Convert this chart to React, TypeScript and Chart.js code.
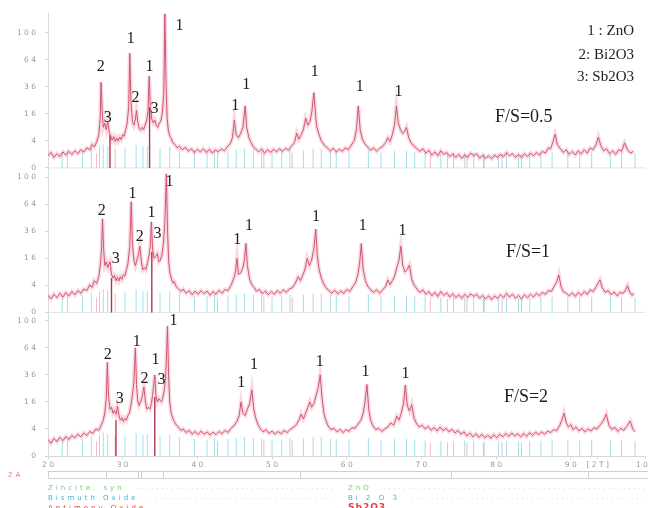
import React, { useEffect, useRef } from "react";
import { Chart, registerables } from "chart.js";

Chart.register(...registerables);

// ---------- data ----------
const panelNames = ["F/S=0.5", "F/S=1", "F/S=2"];
const yTickCounts = [0, 4, 16, 36, 64, 100];
const yTickText = ["0", "4", "1 6", "3 6", "6 4", "1 0 0"];
const xTickValues = [20, 30, 40, 50, 60, 70, 80, 90, 93.6, 100];
const xTickLabels = ["2 0", "3 0", "4 0", "5 0", "6 0", "7 0", "8 0", "9 0", "[ 2 T ]", "1 0 0"];
const phaseLegend = ["1 : ZnO", "2: Bi2O3", "3: Sb2O3"];
const refNames = ["Zincite, syn", "Bismuth Oxide", "Antimony Oxide"];
const refFormulas = ["ZnO", "Bi 2 O 3", "Sb2O3"];

// scan F/S=0.5 : [2theta, counts]
const scanA: [number, number][] = [
  [20.0, 0.8], [20.4, 1.3], [20.8, 0.6], [21.2, 1.1], [21.6, 0.7], [22.0, 1.4], [22.4, 0.9], [22.8, 1.5],
  [23.2, 1.0], [23.6, 1.6], [24.0, 1.1], [24.4, 1.8], [24.8, 1.4], [25.2, 2.2], [25.6, 1.8], [25.9, 3.0],
  [26.2, 2.4], [26.5, 3.6], [26.8, 6], [27.0, 14], [27.1, 40], [27.25, 18], [27.4, 9], [27.6, 11],
  [27.8, 8], [28.0, 12], [28.2, 7], [28.4, 5.5], [28.6, 4.2], [28.8, 5.4], [29.0, 3.8], [29.2, 4.9],
  [29.4, 3.9], [29.6, 5.2], [29.8, 4.4], [30.0, 6.0], [30.2, 5.5], [30.4, 8], [30.6, 11], [30.8, 20],
  [30.95, 72], [31.1, 25], [31.3, 12], [31.5, 10], [31.7, 13], [31.85, 18], [32.0, 12], [32.2, 8.5],
  [32.4, 7.8], [32.6, 9], [32.8, 8], [33.0, 10], [33.2, 12], [33.4, 18], [33.55, 46], [33.7, 20],
  [33.9, 13], [34.1, 11], [34.3, 12.5], [34.5, 10], [34.7, 9], [34.9, 11], [35.1, 12], [35.3, 16],
  [35.5, 30], [35.65, 130], [35.8, 40], [35.95, 14], [36.1, 8], [36.3, 5.5], [36.5, 4.8], [36.7, 3.5],
  [37.0, 3.0], [37.3, 2.2], [37.6, 2.6], [38.0, 1.8], [38.4, 2.3], [38.8, 1.5], [39.2, 2.0], [39.6, 1.3],
  [40.0, 1.9], [40.4, 1.4], [40.8, 2.0], [41.2, 1.3], [41.6, 1.9], [42.0, 1.2], [42.4, 1.8], [42.8, 1.4],
  [43.2, 2.0], [43.6, 1.6], [44.0, 2.4], [44.4, 3.2], [44.7, 5], [44.95, 12.5], [45.2, 6], [45.5, 5],
  [45.8, 6.5], [46.1, 9], [46.4, 21], [46.6, 9], [46.9, 5], [47.2, 3.5], [47.5, 2.4], [47.8, 2.0],
  [48.2, 1.4], [48.6, 2.0], [49.0, 1.2], [49.4, 1.8], [49.8, 1.3], [50.2, 1.9], [50.6, 1.4], [51.0, 2.0],
  [51.4, 1.5], [51.8, 2.1], [52.2, 1.7], [52.6, 2.6], [53.0, 3.5], [53.3, 6.6], [53.6, 4.5], [53.9, 6],
  [54.2, 8], [54.5, 13.5], [54.8, 10], [55.1, 12], [55.35, 18], [55.6, 31], [55.85, 14], [56.0, 9],
  [56.3, 6], [56.6, 4], [57.0, 2.8], [57.4, 2.2], [57.8, 1.6], [58.2, 2.1], [58.6, 1.4], [59.0, 1.9],
  [59.4, 1.5], [59.8, 2.2], [60.2, 1.8], [60.6, 2.8], [61.0, 4.0], [61.3, 8], [61.55, 21], [61.8, 8],
  [62.1, 4.5], [62.4, 3.2], [62.8, 2.4], [63.2, 1.7], [63.6, 2.2], [64.0, 1.5], [64.4, 2.1], [64.8, 2.5],
  [65.2, 3.5], [65.5, 5], [65.8, 3.8], [66.1, 6], [66.4, 10], [66.65, 21], [66.9, 11], [67.2, 8],
  [67.5, 6.5], [67.8, 7.5], [68.0, 9], [68.3, 5], [68.6, 3.5], [69.0, 2.6], [69.4, 2.0], [69.8, 1.5],
  [70.2, 2.0], [70.6, 1.2], [71.0, 1.7], [71.4, 0.9], [71.8, 1.4], [72.2, 0.8], [72.6, 1.6], [73.0, 1.0],
  [73.4, 1.3], [73.8, 0.7], [74.2, 1.1], [74.6, 0.6], [75.0, 1.0], [75.4, 0.5], [75.8, 0.9], [76.2, 0.6],
  [76.6, 1.2], [77.0, 0.8], [77.4, 1.1], [77.8, 0.5], [78.2, 0.9], [78.6, 0.5], [79.0, 0.8], [79.4, 0.45],
  [79.8, 0.9], [80.2, 0.6], [80.6, 1.0], [81.0, 0.7], [81.4, 1.3], [81.8, 0.8], [82.2, 1.1], [82.6, 0.6],
  [83.0, 1.0], [83.4, 0.6], [83.8, 1.1], [84.2, 0.7], [84.6, 1.2], [85.0, 0.8], [85.4, 1.3], [85.8, 0.9],
  [86.2, 1.5], [86.6, 1.2], [87.0, 2.2], [87.3, 2.0], [87.6, 3.6], [87.9, 6.2], [88.2, 3.0], [88.6, 2.0],
  [89.0, 1.3], [89.4, 1.8], [89.8, 1.0], [90.2, 1.5], [90.6, 0.9], [91.0, 1.6], [91.4, 1.1], [91.8, 1.8],
  [92.2, 1.2], [92.6, 2.2], [93.0, 1.8], [93.4, 3.0], [93.7, 5.2], [94.0, 2.8], [94.4, 1.6], [94.8, 2.0],
  [95.2, 1.1], [95.6, 1.6], [96.0, 1.0], [96.4, 1.8], [96.8, 1.5], [97.2, 3.4], [97.6, 1.8], [98.0, 1.2],
  [98.4, 1.5],
];

// scan F/S=1
const scanB: [number, number][] = [
  [20.0, 1.6], [20.4, 1.0], [20.8, 1.8], [21.2, 1.2], [21.6, 2.0], [22.0, 1.3], [22.4, 2.2], [22.8, 1.5],
  [23.2, 2.4], [23.6, 1.7], [24.0, 2.6], [24.4, 2.0], [24.8, 3.0], [25.2, 2.6], [25.6, 4.2], [25.9, 3.4],
  [26.2, 5.5], [26.5, 4.6], [26.8, 7], [27.0, 12], [27.15, 20], [27.3, 48], [27.45, 22], [27.6, 12],
  [27.8, 14], [28.0, 11], [28.3, 14], [28.5, 8], [28.7, 6.5], [28.9, 7.5], [29.1, 5.5], [29.3, 6.8],
  [29.5, 5.4], [29.7, 7.0], [29.9, 6.0], [30.1, 7.8], [30.3, 7.2], [30.5, 10], [30.7, 13], [30.95, 24],
  [31.15, 67], [31.3, 26], [31.5, 15], [31.7, 12], [31.9, 15], [32.1, 18], [32.3, 24], [32.5, 14],
  [32.7, 10], [32.9, 11], [33.1, 10], [33.3, 13], [33.5, 17], [33.7, 24], [33.85, 45], [34.0, 22],
  [34.2, 16], [34.4, 17], [34.65, 19], [34.85, 14], [35.05, 15], [35.25, 18], [35.45, 26], [35.65, 45],
  [35.85, 105], [36.0, 38], [36.15, 15], [36.3, 9], [36.5, 6.5], [36.7, 4.8], [36.9, 5.2], [37.2, 3.5],
  [37.5, 3.0], [37.8, 2.4], [38.1, 3.0], [38.5, 2.0], [38.9, 2.6], [39.3, 1.7], [39.7, 2.5], [40.1, 1.8],
  [40.5, 2.6], [40.9, 1.9], [41.3, 2.5], [41.7, 1.6], [42.1, 2.4], [42.5, 1.8], [42.9, 2.7], [43.3, 2.0],
  [43.7, 2.9], [44.1, 2.6], [44.5, 4], [44.9, 6.5], [45.1, 9], [45.3, 16], [45.5, 8], [45.8, 8.5],
  [46.1, 11], [46.3, 15], [46.5, 26], [46.7, 12], [47.0, 6], [47.3, 4.2], [47.6, 3.4], [47.9, 2.5],
  [48.3, 2.9], [48.7, 1.9], [49.1, 2.5], [49.5, 1.7], [49.9, 2.4], [50.3, 1.8], [50.7, 2.6], [51.1, 2.0],
  [51.5, 2.8], [51.9, 2.2], [52.3, 3.0], [52.7, 3.3], [53.1, 4.6], [53.5, 7], [53.8, 5.5], [54.1, 7.5],
  [54.4, 10], [54.7, 16], [55.0, 12], [55.3, 15], [55.6, 22], [55.85, 38], [56.05, 18], [56.3, 10],
  [56.6, 6.5], [56.9, 4.5], [57.2, 3.4], [57.6, 2.6], [58.0, 2.0], [58.4, 2.7], [58.8, 1.9], [59.2, 2.5],
  [59.6, 2.0], [60.0, 2.9], [60.4, 2.4], [60.8, 3.6], [61.2, 5], [61.5, 8], [61.75, 14], [61.95, 26],
  [62.2, 10], [62.5, 5.5], [62.8, 3.8], [63.2, 2.8], [63.6, 2.2], [64.0, 2.8], [64.4, 2.0], [64.8, 2.8],
  [65.2, 3.6], [65.5, 5.8], [65.8, 4.2], [66.1, 5.5], [66.4, 7], [66.7, 11], [67.0, 15], [67.25, 24],
  [67.5, 12], [67.8, 9], [68.1, 10], [68.4, 12.3], [68.7, 6], [69.0, 4.2], [69.4, 3.0], [69.8, 2.2],
  [70.2, 2.8], [70.6, 1.8], [71.0, 2.4], [71.4, 1.5], [71.8, 2.2], [72.2, 1.4], [72.6, 2.4], [73.0, 1.6],
  [73.4, 2.1], [73.8, 1.3], [74.2, 1.9], [74.6, 1.2], [75.0, 1.7], [75.4, 1.1], [75.8, 1.8], [76.2, 1.2],
  [76.6, 1.9], [77.0, 1.4], [77.4, 1.8], [77.8, 1.1], [78.2, 1.6], [78.6, 1.0], [79.0, 1.5], [79.4, 0.9],
  [79.8, 1.5], [80.2, 1.1], [80.6, 1.7], [81.0, 1.2], [81.4, 2.0], [81.8, 1.3], [82.2, 1.8], [82.6, 1.1],
  [83.0, 1.6], [83.4, 1.0], [83.8, 1.7], [84.2, 1.2], [84.6, 1.8], [85.0, 1.3], [85.4, 2.0], [85.8, 1.5],
  [86.2, 2.2], [86.6, 1.8], [87.0, 2.6], [87.4, 2.4], [87.8, 3.8], [88.1, 5], [88.4, 7.7], [88.7, 3.6],
  [89.0, 2.4], [89.4, 2.0], [89.8, 1.5], [90.2, 2.1], [90.6, 1.4], [91.0, 2.2], [91.4, 1.6], [91.8, 2.4],
  [92.2, 1.8], [92.6, 2.8], [93.0, 2.4], [93.4, 3.6], [93.9, 5.8], [94.2, 3.4], [94.6, 2.2], [95.0, 2.6],
  [95.4, 1.7], [95.8, 2.3], [96.2, 1.5], [96.6, 2.2], [97.0, 2.0], [97.3, 2.6], [97.6, 3.9], [97.9, 2.2],
  [98.2, 1.6], [98.5, 2.0],
];

// scan F/S=2
const scanC: [number, number][] = [
  [20.0, 1.5], [20.4, 0.9], [20.8, 1.7], [21.2, 1.1], [21.6, 1.9], [22.0, 1.3], [22.4, 2.1], [22.8, 1.5],
  [23.2, 2.3], [23.6, 1.8], [24.0, 2.6], [24.4, 2.0], [24.8, 2.9], [25.2, 2.3], [25.6, 3.3], [26.0, 2.8],
  [26.4, 4.0], [26.8, 3.6], [27.1, 5.0], [27.4, 7], [27.6, 10], [27.8, 18], [27.95, 48], [28.1, 20],
  [28.3, 12], [28.5, 13], [28.7, 10], [28.9, 11.5], [29.1, 9.5], [29.3, 13.5], [29.5, 9], [29.7, 7],
  [29.9, 8], [30.1, 6.5], [30.3, 7.8], [30.5, 7.0], [30.7, 9], [30.9, 10], [31.1, 14], [31.3, 20],
  [31.5, 30], [31.7, 64], [31.85, 28], [32.0, 17], [32.2, 14], [32.4, 16], [32.6, 19], [32.85, 26],
  [33.05, 16], [33.25, 12], [33.45, 13], [33.65, 12], [33.85, 15], [34.0, 20], [34.3, 36], [34.45, 20],
  [34.65, 16], [34.85, 18], [35.0, 17], [35.2, 16], [35.4, 19], [35.6, 25], [35.8, 40], [36.0, 92],
  [36.15, 35], [36.3, 16], [36.5, 10], [36.7, 7.9], [36.9, 6.5], [37.2, 5.2], [37.5, 4.4], [37.8, 3.6],
  [38.1, 4.0], [38.5, 3.0], [38.9, 3.6], [39.3, 2.6], [39.7, 3.3], [40.1, 2.5], [40.5, 3.4], [40.9, 2.6],
  [41.3, 3.2], [41.7, 2.4], [42.1, 3.1], [42.5, 2.5], [42.9, 3.3], [43.3, 2.7], [43.7, 3.6], [44.1, 3.0],
  [44.5, 4.2], [44.9, 5.0], [45.3, 6.5], [45.6, 9], [45.85, 16], [46.1, 10], [46.4, 9], [46.7, 12],
  [47.0, 15], [47.3, 24], [47.55, 12], [47.8, 8], [48.1, 5.5], [48.4, 4.2], [48.8, 3.2], [49.2, 3.8],
  [49.6, 2.8], [50.0, 3.4], [50.4, 2.6], [50.8, 3.3], [51.2, 2.7], [51.6, 3.6], [52.0, 3.0], [52.4, 3.8],
  [52.8, 4.4], [53.2, 5.2], [53.6, 7], [53.9, 9.6], [54.2, 7.5], [54.5, 10], [54.8, 13], [55.05, 16],
  [55.3, 13], [55.6, 15], [55.9, 20], [56.2, 26], [56.45, 36], [56.7, 18], [56.95, 10], [57.2, 7],
  [57.5, 5], [57.9, 3.8], [58.3, 4.2], [58.7, 3.2], [59.1, 3.9], [59.5, 3.0], [59.9, 3.8], [60.3, 3.3],
  [60.7, 4.4], [61.1, 4.2], [61.5, 5.5], [61.9, 7], [62.2, 10], [62.45, 16], [62.7, 28], [62.95, 12],
  [63.2, 7], [63.5, 5], [63.9, 3.8], [64.3, 4.2], [64.7, 3.3], [65.1, 4.0], [65.5, 4.6], [65.9, 6],
  [66.3, 5.2], [66.7, 8.7], [67.0, 7], [67.3, 10], [67.6, 15], [67.85, 27.6], [68.1, 14], [68.4, 11],
  [68.7, 14.5], [69.0, 8], [69.3, 6], [69.7, 4.6], [70.1, 5.2], [70.5, 4.0], [70.9, 4.8], [71.3, 3.6],
  [71.7, 4.5], [72.1, 3.4], [72.5, 4.6], [72.9, 3.5], [73.3, 4.2], [73.7, 3.2], [74.1, 3.9], [74.5, 2.9],
  [74.9, 3.6], [75.3, 2.6], [75.7, 3.2], [76.1, 2.2], [76.5, 2.9], [76.9, 2.0], [77.3, 2.7], [77.7, 1.9],
  [78.1, 2.6], [78.5, 1.8], [78.9, 2.4], [79.3, 1.7], [79.7, 2.5], [80.1, 1.8], [80.5, 2.6], [80.9, 2.0],
  [81.3, 2.8], [81.7, 2.1], [82.1, 2.9], [82.5, 2.2], [82.9, 2.7], [83.3, 2.0], [83.7, 2.8], [84.1, 2.1],
  [84.5, 3.0], [84.9, 2.3], [85.3, 3.1], [85.7, 2.5], [86.1, 3.2], [86.5, 2.6], [86.9, 3.4], [87.3, 3.0],
  [87.7, 3.8], [88.1, 3.5], [88.5, 5], [88.8, 7], [89.1, 10], [89.4, 6], [89.7, 4.6], [90.0, 5.4],
  [90.3, 3.8], [90.7, 4.6], [91.1, 3.4], [91.5, 4.2], [91.9, 3.2], [92.3, 4.0], [92.7, 3.4], [93.1, 4.4],
  [93.5, 4.0], [93.9, 5.2], [94.3, 6.5], [94.75, 9.6], [95.1, 5.2], [95.5, 3.9], [95.9, 4.5], [96.3, 3.3],
  [96.7, 4.2], [97.1, 3.6], [97.5, 4.8], [97.95, 6.7], [98.3, 4.0], [98.6, 3.2],
];

// peak labels: [2theta, counts level, text]
const peakLabelsA: [number, number, string][] = [
  [37.6, 111, "1"], [31.07, 91, "1"], [27.07, 56, "2"], [33.6, 56, "1"], [31.73, 26.7, "2"],
  [28.0, 13.8, "3"], [34.27, 19, "3"], [45.07, 21, "1"], [46.53, 38, "1"], [55.73, 51, "1"],
  [61.73, 36.4, "1"], [66.93, 31.4, "1"],
];
const peakLabelsB: [number, number, string][] = [
  [36.27, 93.6, "1"], [31.33, 77, "1"], [27.2, 57, "2"], [33.87, 54, "1"], [32.27, 31.4, "2"],
  [34.67, 33.9, "3"], [29.07, 16, "3"], [45.33, 29, "1"], [46.93, 41, "1"], [55.87, 49.8, "1"],
  [62.13, 41, "1"], [67.47, 36.4, "1"],
];
const peakLabelsC: [number, number, string][] = [
  [36.8, 100.7, "1"], [31.87, 71, "1"], [28.0, 56, "2"], [34.4, 50.8, "1"], [32.93, 33, "2"],
  [35.2, 32, "3"], [29.6, 17.8, "3"], [45.87, 29, "1"], [47.6, 45.7, "1"], [56.4, 48.7, "1"],
  [62.53, 39, "1"], [67.87, 37.3, "1"],
];
// panel name anchors: [2theta, counts level]
const panelNameAt: [number, number][] = [[83.7, 13.8], [84.27, 19.7], [84.0, 19]];

// reference sticks: [2theta, counts]
const bismuthLines: [number, number][] = [
  [21.9, 1.4], [22.6, 1.8], [24.6, 1.6], [25.8, 2.2], [26.9, 2.4], [27.4, 3], [28.0, 2.6], [30.3, 2.2],
  [31.8, 2.8], [32.7, 2.5], [33.3, 2.5], [35.0, 2.2], [36.3, 2.5], [37.6, 2], [39.6, 1.6], [41.3, 1.5],
  [42.3, 1.8], [44.1, 1.6], [45.2, 1.8], [46.3, 2], [47.5, 1.8], [48.6, 1.6], [50.0, 1.5], [51.3, 1.5],
  [52.4, 1.7], [54.2, 1.7], [55.5, 2], [56.6, 2], [57.8, 1.6], [58.6, 1.5], [60.3, 1.5], [62.9, 1.8],
  [64.6, 1.4], [66.4, 1.6], [68.0, 1.6], [69.1, 1.4], [70.5, 1.3], [72.6, 1.2], [74.3, 1.2], [75.8, 1.3],
  [77.0, 1.2], [78.4, 1.1], [80.3, 1.2], [81.4, 1.2], [83.0, 1.1], [84.5, 1.2], [86.0, 1.2], [87.5, 1.4],
  [89.6, 1.4], [91.2, 1.3], [92.8, 1.4], [95.3, 1.3], [96.8, 1.3], [98.6, 1.2],
];
const antimonyFaint: [number, number][] = [
  [26.5, 1.2], [29.0, 2], [42.7, 1.2], [48.9, 1.4], [52.7, 1.3], [71.2, 1], [73.5, 1], [76.1, 1],
  [78.3, 1], [80.8, 1], [83.4, 1],
];
const antimonyStrongA: [number, number][] = [[28.3, 5.8], [33.6, 20]];
const antimonyStrongB: [number, number][] = [[28.5, 6.5], [33.9, 20]];
const antimonyStrongC: [number, number][] = [[29.1, 7], [34.3, 19]];
const stripMarks = [27.8, 32.0, 32.5, 35.4, 53.8, 74.0, 92.3];

// ---------- layout helpers ----------
const PANEL_BASE = [21.31, 10.62, 0]; // square-root units, top panel first
const Y_MAX = 32.73;
const scans = [scanA, scanB, scanC];
const peakLabels = [peakLabelsA, peakLabelsB, peakLabelsC];
const strongSticks = [antimonyStrongA, antimonyStrongB, antimonyStrongC];

const toY = (p: number, c: number) => PANEL_BASE[p] + Math.sqrt(Math.max(c, 0));

const yTicks = PANEL_BASE.flatMap((b, p) =>
  yTickCounts.map((c, i) => ({ value: toY(p, c), label: yTickText[i] }))
).sort((a, b) => a.value - b.value);

const stickData = (p: number, list: [number, number][]) =>
  list.flatMap(([t, c]) => [
    { x: t, y: toY(p, 0) },
    { x: t, y: toY(p, c) },
    { x: t, y: null as any },
  ]);

const textPlugin = {
  id: "xrdText",
  afterDatasetsDraw(chart: any) {
    const { ctx, scales } = chart;
    const x = scales.x;
    const y = scales.y;
    ctx.save();
    ctx.fillStyle = "#1c1c1c";
    ctx.textAlign = "center";
    ctx.textBaseline = "middle";
    ctx.font = '16px "Liberation Serif"';
    peakLabels.forEach((list, p) =>
      list.forEach(([t, c, s]) => ctx.fillText(s, x.getPixelForValue(t), y.getPixelForValue(toY(p, c))))
    );
    ctx.font = '18px "Liberation Serif"';
    panelNameAt.forEach(([t, c], p) =>
      ctx.fillText(panelNames[p], x.getPixelForValue(t), y.getPixelForValue(toY(p, c)))
    );
    ctx.textAlign = "right";
    ctx.font = '15px "Liberation Serif"';
    const ly = [31, 55, 77];
    phaseLegend.forEach((s, i) => ctx.fillText(s, 634, ly[i]));
    ctx.restore();
  },
  afterDraw(chart: any) {
    const { ctx, scales } = chart;
    const x = scales.x;
    const left = x.getPixelForValue(20);
    const right = x.getPixelForValue(100) + 10;
    ctx.save();
    // reference strip
    ctx.strokeStyle = "#cfcfcf";
    ctx.lineWidth = 1;
    ctx.strokeRect(left + 0.5, 471.5, right - left, 7);
    ctx.beginPath();
    stripMarks.forEach((t) => {
      const px = Math.round(x.getPixelForValue(t)) + 0.5;
      ctx.moveTo(px, 471.5);
      ctx.lineTo(px, 478.5);
    });
    ctx.stroke();
    ctx.fillStyle = "#e07a8a";
    ctx.font = '7px "DejaVu Sans"';
    ctx.textAlign = "left";
    ctx.textBaseline = "middle";
    (ctx as any).letterSpacing = "3px";
    ctx.fillText("2A", 8, 475);
    const colors = ["#7acb72", "#3fb2dc", "#e2403f"];
    const rows = [488, 498, 508];
    refNames.forEach((s, i) => {
      ctx.fillStyle = colors[i];
      ctx.font = '7px "DejaVu Sans"';
      (ctx as any).letterSpacing = "3px";
      ctx.fillText(s, 48, rows[i]);
      const w = ctx.measureText(s).width;
      ctx.font = i === 2 ? 'bold 9px "DejaVu Sans"' : '7px "DejaVu Sans"';
      (ctx as any).letterSpacing = i === 2 ? "1px" : "3px";
      ctx.fillText(refFormulas[i], 348, rows[i]);
      const w2 = ctx.measureText(refFormulas[i]).width;
      ctx.save();
      ctx.strokeStyle = "rgba(190,190,190,0.55)";
      ctx.setLineDash([1, 4]);
      ctx.beginPath();
      ctx.moveTo(48 + w + 12, rows[i] + 0.5);
      ctx.lineTo(335, rows[i] + 0.5);
      ctx.moveTo(348 + w2 + 12, rows[i] + 0.5);
      ctx.lineTo(645, rows[i] + 0.5);
      ctx.stroke();
      ctx.restore();
    });
    (ctx as any).letterSpacing = "0px";
    ctx.restore();
  },
};

export default function App() {
  const ref = useRef<HTMLCanvasElement | null>(null);
  useEffect(() => {
    if (!ref.current) return;
    const datasets: any[] = [];
    strongSticks.forEach((list, p) =>
      datasets.push({
        data: stickData(p, list),
        borderColor: "rgba(170,30,55,0.9)",
        borderWidth: 1.4,
        pointRadius: 0,
        spanGaps: false,
      })
    );
    scans.forEach((scan, p) =>
      datasets.push({
        data: scan.map(([t, c]) => ({ x: t, y: toY(p, c) })),
        borderColor: "rgba(210,78,108,0.95)",
        borderWidth: 1,
        pointRadius: 0,
        tension: 0,
      })
    );
    scans.forEach((scan, p) =>
      datasets.push({
        data: scan.map(([t, c]) => ({ x: t, y: toY(p, c) })),
        borderColor: "rgba(236,150,170,0.35)",
        borderWidth: 4,
        pointRadius: 0,
        tension: 0,
      })
    );
    [0, 1, 2].forEach((p) => {
      datasets.push({
        data: stickData(p, bismuthLines),
        borderColor: "rgba(120,210,228,0.7)",
        borderWidth: 1,
        pointRadius: 0,
        spanGaps: false,
      });
      datasets.push({
        data: stickData(p, antimonyFaint),
        borderColor: "rgba(236,130,150,0.55)",
        borderWidth: 1,
        pointRadius: 0,
        spanGaps: false,
      });
    });
    [0, 1].forEach((p) =>
      datasets.push({
        data: [
          { x: 20, y: toY(p, 0) },
          { x: 100, y: toY(p, 0) },
        ],
        borderColor: "#e2e2e2",
        borderWidth: 1,
        pointRadius: 0,
      })
    );

    const chart = new Chart(ref.current, {
      type: "line",
      data: { datasets },
      options: {
        responsive: false,
        animation: false,
        events: [],
        layout: { padding: { top: 6, right: 0, left: 0, bottom: 0 } },
        plugins: { legend: { display: false }, tooltip: { enabled: false } },
        scales: {
          x: {
            type: "linear",
            min: 20,
            max: 100,
            offset: false,
            afterBuildTicks: (s: any) => {
              s.ticks = xTickValues.map((v) => ({ value: v }));
            },
            afterFit: (s: any) => {
              s.height = 52;
            },
            ticks: {
              autoSkip: false,
              maxRotation: 0,
              padding: 2,
              color: "#9a9a9a",
              font: { family: "DejaVu Sans", size: 7.5 },
              callback: (_v: any, i: number) => xTickLabels[i],
            },
            grid: { drawOnChartArea: false, tickLength: 3, color: "#d6d6d6" },
            border: { color: "#d6d6d6" },
          },
          y: {
            type: "linear",
            min: 0,
            max: Y_MAX,
            afterBuildTicks: (s: any) => {
              s.ticks = yTicks.map((t) => ({ value: t.value }));
            },
            afterFit: (s: any) => {
              s.width = 48;
            },
            ticks: {
              autoSkip: false,
              padding: 9,
              color: "#9a9a9a",
              font: { family: "DejaVu Sans", size: 7.5 },
              callback: (_v: any, i: number) => yTicks[i].label,
            },
            grid: { drawOnChartArea: false, tickLength: 3, color: "#d6d6d6" },
            border: { color: "#dadada" },
          },
        },
      },
      plugins: [textPlugin],
    });
    return () => chart.destroy();
  }, []);

  return (
    <div
      style={{
        position: "absolute",
        left: 0,
        top: 0,
        width: 648,
        height: 508,
        overflow: "hidden",
        background: "#fff",
      }}
    >
      <canvas ref={ref} width={657} height={508} style={{ display: "block" }} />
    </div>
  );
}
